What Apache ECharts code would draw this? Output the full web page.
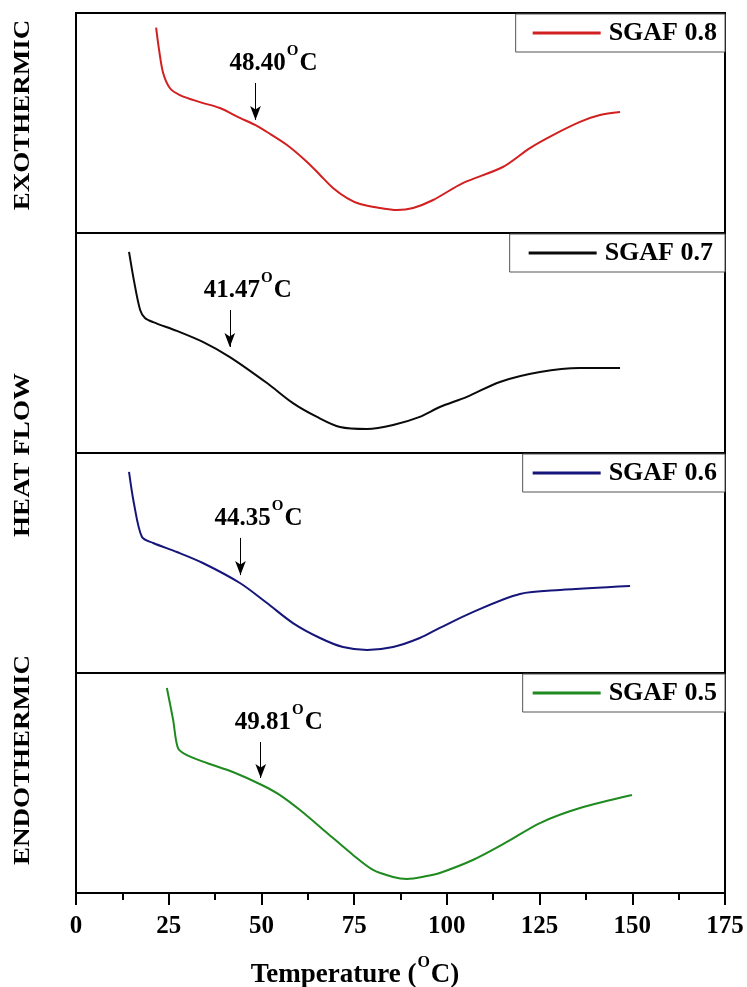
<!DOCTYPE html>
<html>
<head>
<meta charset="utf-8">
<title>DSC thermograms of SGAF samples</title>
<script src="https://cdn.jsdelivr.net/npm/echarts@6/dist/echarts.min.js"></script>
<style>
  html, body { margin: 0; padding: 0; background: #fff; }
  #chart { width: 747px; height: 987px; }
</style>
</head>
<body>
<div id="chart"></div>
<script>
// Sample names, top panel to bottom panel
const sampleNames = ['SGAF 0.8', 'SGAF 0.7', 'SGAF 0.6', 'SGAF 0.5'];

// Temperature (°C) and relative heat flow (0–100 per panel, endotherm downward)
const sgaf08Temp = [21.6, 22.4, 23.5, 25.3, 28.0, 33.4, 38.8, 44.2, 48.3, 51.5, 56.9, 62.3, 65.8, 69.3, 73.1, 76.6, 82.0, 86.5, 90.9, 96.3, 104.3, 115.1, 122.4, 128.6, 135.9, 141.3, 146.7];
const sgaf08Flow = [93.3, 83.2, 72.7, 65.9, 62.7, 59.5, 56.8, 52.3, 49.1, 45.9, 40.0, 32.3, 26.4, 20.5, 15.9, 13.2, 11.4, 10.5, 11.4, 15.0, 22.7, 30.0, 38.6, 44.5, 50.5, 53.6, 55.0];

const sgaf07Temp = [14.3, 15.6, 17.3, 18.6, 20.8, 27.2, 34.2, 41.5, 51.5, 58.5, 65.0, 71.2, 78.5, 85.5, 92.7, 98.1, 105.4, 114.3, 125.1, 135.9, 146.7];
const sgaf07Flow = [91.4, 78.6, 65.0, 61.4, 59.5, 55.5, 50.5, 43.6, 31.8, 22.7, 16.4, 11.8, 10.9, 12.7, 16.4, 20.9, 25.5, 32.3, 36.8, 38.6, 38.6];

const sgaf06Temp = [14.3, 15.6, 17.8, 20.8, 27.2, 34.2, 44.2, 51.5, 58.5, 65.8, 72.0, 78.5, 85.5, 92.7, 98.1, 107.0, 119.7, 130.5, 149.4];
const sgaf06Flow = [91.4, 77.3, 61.8, 59.1, 55.0, 50.0, 40.9, 31.8, 22.7, 15.9, 11.8, 10.5, 11.8, 15.9, 20.5, 27.7, 35.9, 37.7, 39.5];

const sgaf05Temp = [24.5, 26.2, 27.5, 29.9, 35.3, 42.3, 50.1, 55.0, 60.4, 67.7, 74.7, 80.1, 85.5, 89.2, 94.6, 98.1, 107.0, 116.2, 125.1, 135.9, 149.9];
const sgaf05Flow = [93.2, 78.6, 65.9, 62.7, 59.1, 55.0, 49.1, 44.5, 37.7, 27.3, 17.3, 10.5, 7.3, 6.4, 7.7, 9.1, 15.0, 23.2, 31.8, 38.6, 44.5];

const sampleTemps = [sgaf08Temp, sgaf07Temp, sgaf06Temp, sgaf05Temp];
const sampleFlows = [sgaf08Flow, sgaf07Flow, sgaf06Flow, sgaf05Flow];

// Onset temperatures marked by arrows (°C), with arrow start / tip heights
const onsetTemps = [48.40, 41.47, 44.35, 49.81];
const arrowTop = [68.2, 65.0, 61.4, 68.6];
const arrowTip = [51.4, 48.2, 44.5, 52.3];

// X axis ticks
const xMin = 0, xMax = 175, xStep = 25;

const lineColors = ['#d21f1f', '#0a0a0a', '#15157a', '#1f8a1f'];
const serif = "'Liberation Serif', 'Times New Roman', serif";

const panelLeft = 76, panelRight = 22, panelTop = 13, panelHeight = 220;

const grids = [], xAxes = [], yAxes = [], series = [], legends = [];
const legendPads = [[6, 8, 6, 17], [6, 12, 6, 19], [6, 8, 6, 10], [6, 8, 6, 10]];

sampleNames.forEach((name, i) => {
  const top = panelTop + i * panelHeight;
  const isBottom = i === sampleNames.length - 1;
  grids.push({
    left: panelLeft, right: panelRight, top: top, height: panelHeight,
    show: true, borderColor: '#000', borderWidth: 2, backgroundColor: 'transparent'
  });
  xAxes.push({
    gridIndex: i, type: 'value', min: xMin, max: xMax, interval: xStep,
    show: isBottom,
    axisLine: { show: true, onZero: false, lineStyle: { color: '#000', width: 2 } },
    axisTick: { show: true, inside: false, length: 12, lineStyle: { color: '#000', width: 2 } },
    minorTick: { show: true, splitNumber: 2, length: 7, lineStyle: { color: '#000', width: 2 } },
    splitLine: { show: false },
    axisLabel: {
      show: true, margin: 21, color: '#000',
      fontFamily: serif, fontWeight: 'bold', fontSize: 25
    }
  });
  yAxes.push({ gridIndex: i, type: 'value', min: 0, max: 100, show: false, splitLine: { show: false } });

  const pts = sampleTemps[i].map((t, k) => [t, sampleFlows[i][k]]);
  const onset = onsetTemps[i].toFixed(2);
  series.push({
    name: name, type: 'line', xAxisIndex: i, yAxisIndex: i,
    data: pts, showSymbol: false, smooth: 0.3,
    lineStyle: { color: lineColors[i], width: 2 },
    itemStyle: { color: lineColors[i] },
    z: 3,
    markLine: {
      silent: true,
      symbol: ['none', 'arrow'],
      symbolSize: [8, 14],
      lineStyle: { color: '#000', width: 1, type: 'solid' },
      label: {
        show: true, position: 'start', distance: 0,
        padding: [0, 0, 0, 36],
        formatter: '{n|' + onset + '}{s|O}{n|C}',
        rich: {
          n: { fontFamily: serif, fontWeight: 'bold', fontSize: 25, color: '#000' },
          s: { fontFamily: serif, fontWeight: 'bold', fontSize: 15, color: '#000', padding: [0, 1, 24, 1] }
        }
      },
      data: [[{ coord: [onsetTemps[i], arrowTop[i]] }, { coord: [onsetTemps[i], arrowTip[i]] }]]
    }
  });

  legends.push({
    data: [name], right: panelRight, top: top + 1,
    orient: 'horizontal', selectedMode: false,
    backgroundColor: '#fff', borderColor: '#555', borderWidth: 1, borderRadius: 0,
    padding: legendPads[i], itemWidth: 68, itemHeight: 3, icon: 'rect',
    itemStyle: { color: lineColors[i] },
    textStyle: { fontFamily: serif, fontWeight: 'bold', fontSize: 26, color: '#000', padding: [0, 0, 0, 3] }
  });
});

// Side annotations along the y direction
const sideLabels = [
  { text: 'EXOTHERMIC', y: 115 },
  { text: 'HEAT FLOW', y: 455 },
  { text: 'ENDOTHERMIC', y: 760 }
];
const graphics = sideLabels.map(s => ({
  type: 'text', x: 23, y: s.y, rotation: Math.PI / 2, scaleY: 0.82,
  style: {
    text: s.text, fill: '#000', align: 'center', verticalAlign: 'middle',
    font: 'bold 27px ' + serif
  }
}));
graphics.push({
  type: 'text', x: 355, y: 975,
  style: {
    text: '{n|Temperature (}{s|O}{n|C)}', align: 'center', verticalAlign: 'middle', fill: '#000',
    rich: {
      n: { fontFamily: serif, fontWeight: 'bold', fontSize: 27, fill: '#000' },
      s: { fontFamily: serif, fontWeight: 'bold', fontSize: 16, fill: '#000', padding: [0, 1, 24, 1] }
    }
  }
});

const chart = echarts.init(document.getElementById('chart'), null, { renderer: 'canvas' });
chart.setOption({
  animation: false,
  backgroundColor: '#fff',
  grid: grids,
  xAxis: xAxes,
  yAxis: yAxes,
  legend: legends,
  series: series,
  graphic: graphics
});
</script>
</body>
</html>
